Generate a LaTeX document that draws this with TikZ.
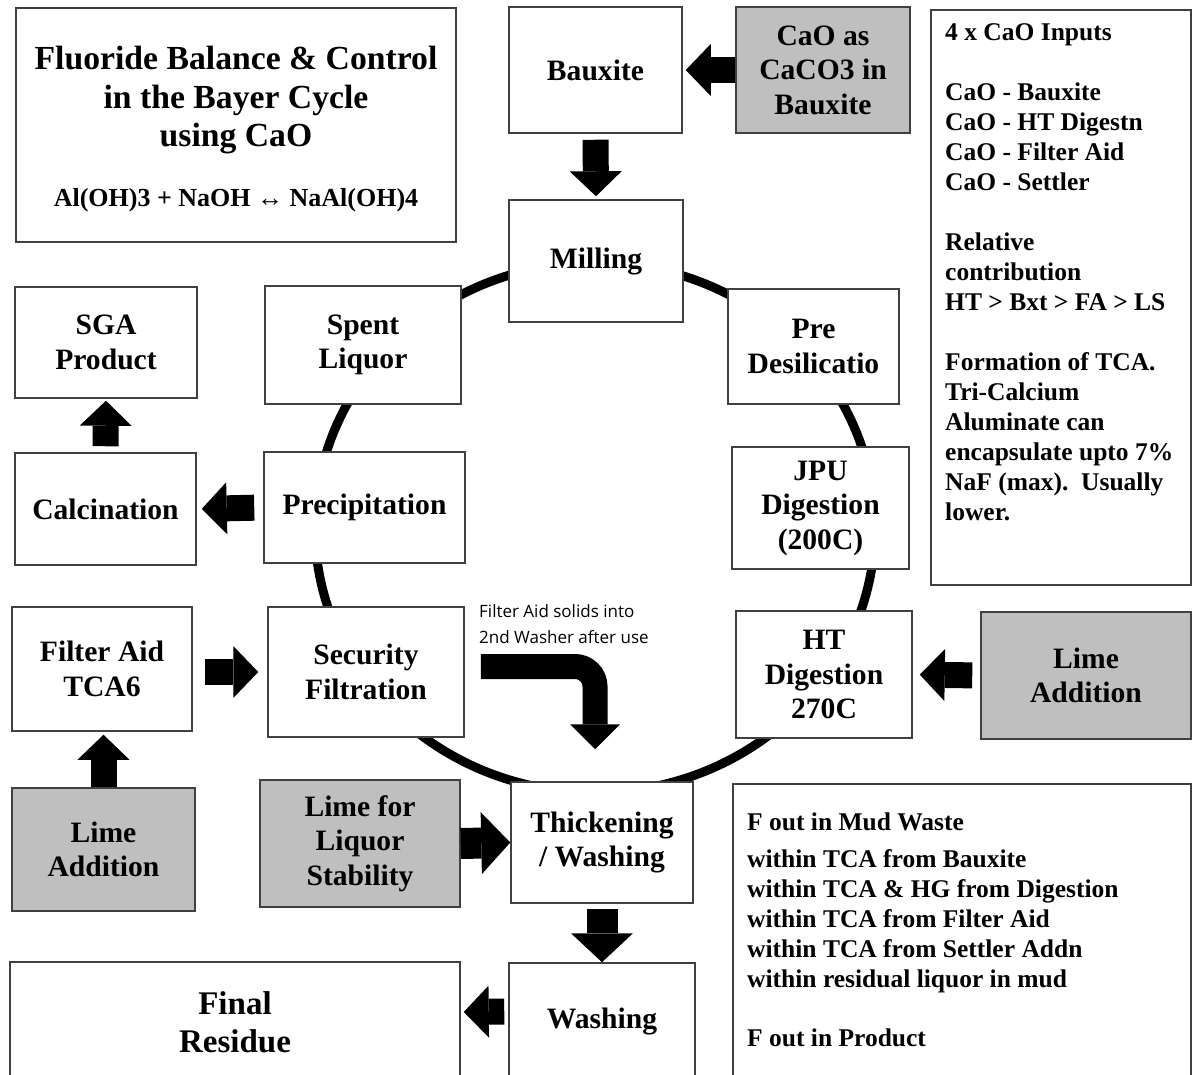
\documentclass[tikz,border=0pt]{standalone}
\usepackage{fontspec}
\setmainfont{Liberation Serif}
\newfontfamily\notefont{Open Sans}
\usepackage{xcolor}
\usepackage{tikz}
\usetikzlibrary{arrows.meta, calc}
\definecolor{limegray}{HTML}{BFBFBF}
\definecolor{edgegray}{HTML}{404040}

\tikzset{
    stage/.style={draw=edgegray, line width=1.5pt, fill=white, align=center, inner sep=2pt,
        font=\fontsize{29.6}{34.5}\selectfont\bfseries},
    feed/.style={stage, fill=limegray},
    blockarrow/.style={line width=26pt, -{Triangle[length=25pt, width=52pt, line width=0pt]}},
    bigarrow/.style={line width=31pt, -{Triangle[length=29pt, width=62pt, line width=0pt]}},
    panel/.style={draw=edgegray, line width=1.5pt},
    paneltext/.style={anchor=north west, align=left, inner sep=0pt,
        font=\fontsize{25.5}{30}\selectfont\bfseries}
}

\begin{document}
\begin{tikzpicture}[x=1pt, y=-1pt]
    \useasboundingbox (0,0) rectangle (1192,1075);
    \clip (0,0) rectangle (1192,1075);

    \coordinate (hub) at (595,527.5);
    \draw[line width=9pt] (hub) ellipse [x radius=280pt, y radius=265pt];

    \node[stage, minimum width=440pt, minimum height=234pt, font=\fontsize{33.7}{38.5}\selectfont\bfseries] (title) at (236,125)
        {\rule{0pt}{32pt}Fluoride Balance \& Control\\in the Bayer Cycle\\using CaO\\[21pt]{\fontsize{26}{30}\selectfont Al(OH)3 + NaOH ↔ NaAl(OH)4}};

    \node[stage, minimum width=173pt, minimum height=126pt] (bauxite) at (595.5,70) {Bauxite};
    \node[feed, minimum width=174pt, minimum height=126pt] (cao) at (823,70) {CaO as\\CaCO3 in\\Bauxite};
    \node[stage, minimum width=174pt, minimum height=122pt] (milling) at (596,261) {Milling};
    \node[stage, minimum width=196pt, minimum height=118pt] (spent) at (363,345) {Spent\\Liquor};
    \node[stage, minimum width=171pt, minimum height=115pt] (predesil) at (813.5,346.5) {Pre\\Desilicatio};
    \node[stage, minimum width=182pt, minimum height=111pt] (sga) at (106,342.5) {SGA\\Product};
    \node[stage, minimum width=181pt, minimum height=112pt] (calc) at (105.5,509) {Calcination};
    \node[stage, minimum width=201pt, minimum height=111pt] (precip) at (364.5,507.5) {Precipitation};
    \node[stage, minimum width=177pt, minimum height=122pt] (jpu) at (820.5,508) {JPU\\Digestion\\(200C)};
    \node[stage, minimum width=180pt, minimum height=124pt] (filteraid) at (102,669) {Filter Aid\\TCA6};
    \node[stage, minimum width=196pt, minimum height=130pt] (secfilt) at (366,672) {Security\\Filtration};
    \node[stage, minimum width=176pt, minimum height=127pt] (htdig) at (824,674.5) {HT\\Digestion\\270C};
    \node[feed, minimum width=210pt, minimum height=127pt] (limeht) at (1086,675.5) {Lime\\Addition};
    \node[feed, minimum width=183pt, minimum height=123pt] (limefa) at (103.5,849.5) {Lime\\Addition};
    \node[feed, minimum width=200pt, minimum height=127pt] (limeliq) at (360,843.5) {Lime for\\Liquor\\Stability};
    \node[stage, minimum width=182pt, minimum height=121pt] (thick) at (602,842.5) {Thickening\\/ Washing};
    \node[stage, minimum width=186pt, minimum height=117pt] (washing) at (602,1021.5) {Washing};
    \node[stage, minimum width=450pt, minimum height=120pt, font=\fontsize{33}{38.5}\selectfont\bfseries] (residue) at (235,1022) {Final\\Residue};

    \draw[panel] (931,10) rectangle (1191,585);
    \node[paneltext] (inputs) at (945,23) {4 x CaO Inputs\\[30pt]
        CaO - Bauxite\\
        CaO - HT Digestn\\
        CaO - Filter Aid\\
        CaO - Settler\\[30pt]
        Relative\\
        contribution\\
        HT > Bxt > FA > LS\\[30pt]
        Formation of TCA.\\
        Tri-Calcium\\
        Aluminate can\\
        encapsulate upto 7\%\\
        NaF (max).~~Usually\\
        lower.};

    \draw[panel] (733,784) rectangle (1191,1100);
    \node[paneltext] (fluorideout) at (747,813) {F out in Mud Waste\\[7pt]
        within TCA from Bauxite\\
        within TCA \& HG from Digestion\\
        within TCA from Filter Aid\\
        within TCA from Settler Addn\\
        within residual liquor in mud\\[29pt]
        F out in Product};

    \node[anchor=north west, align=left, inner sep=0pt, font=\notefont\fontsize{17}{26}\selectfont] (solidsnote) at (479,604)
        {Filter Aid solids into\\2nd Washer after use};

    \draw[blockarrow, shorten >=3pt] (cao.west) -- (bauxite.east);
    \draw[blockarrow, shorten <=6pt, shorten >=3pt] (bauxite.south) -- (milling.north);
    \draw[blockarrow, shorten <=9pt, shorten >=5pt] (precip.west) -- (calc.east);
    \draw[blockarrow, shorten <=6pt, shorten >=2pt] (calc.north) -- (sga.south);
    \draw[blockarrow, shorten <=12pt, shorten >=9pt] (filteraid.east |- secfilt.west) -- (secfilt.west);
    \draw[blockarrow, shorten >=3pt] (limefa.north) -- (limefa.north |- filteraid.south);
    \draw[blockarrow, shorten <=8pt, shorten >=7pt] (limeht.west) -- (htdig.east);
    \draw[bigarrow] (limeliq.east) -- (thick.west);
    \draw[bigarrow, shorten <=5pt] (thick.south) -- (washing.north);
    \draw[blockarrow, shorten <=4pt, shorten >=3pt] ($(washing.west)+(0,-10)$) -- ($(residue.east)+(0,-10)$);
    \draw[line width=25pt, rounded corners=20pt, -{Triangle[length=25pt, width=50pt, line width=0pt]}]
        ($(secfilt.east)+(16,-5.5)$) -| ($(thick.north)+(-7,-32)$);
\end{tikzpicture}
\end{document}
